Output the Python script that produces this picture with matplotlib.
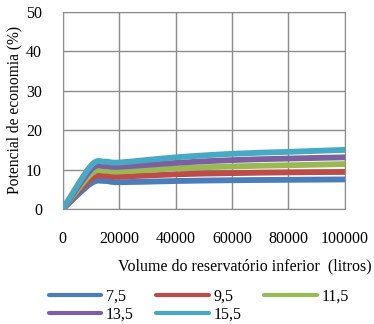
import matplotlib
matplotlib.use("Agg")
import matplotlib.pyplot as plt
import numpy as np
from matplotlib.path import Path
from matplotlib.patches import PathPatch
from matplotlib.lines import Line2D

volume = [0, 10000, 15000, 20000, 40000, 60000, 80000, 100000]
s75 = [0, 6.5, 7.1, 6.8, 7.1, 7.3, 7.4, 7.5]
s95 = [0, 7.7, 8.4, 8.2, 8.8, 9.1, 9.3, 9.4]
s115 = [0, 8.9, 9.7, 9.5, 10.3, 10.8, 11.1, 11.4]
s135 = [0, 10.0, 10.9, 10.7, 11.7, 12.4, 12.8, 13.1]
s155 = [0, 11.0, 12.0, 11.8, 13.1, 14.0, 14.5, 15.0]
labels = ["7,5", "9,5", "11,5", "13,5", "15,5"]
colors = ["#4a7ebb", "#be4b48", "#98b954", "#7d60a0", "#46aac5"]

plt.rcParams['font.family'] = ['Liberation Serif', 'DejaVu Serif']

fig = plt.figure(figsize=(3.74, 3.24), dpi=100)
ax = fig.add_axes([0.168, 0.355, 0.754, 0.608])


def smooth_path(x, y, t=1/6):
    # Excel-like Catmull-Rom smoothing via cubic Bezier segments
    x = np.asarray(x, float); y = np.asarray(y, float)
    verts = [(x[0], y[0])]; codes = [Path.MOVETO]
    n = len(x)
    for i in range(n - 1):
        x0, y0 = (x[i-1], y[i-1]) if i > 0 else (x[i], y[i])
        x3, y3 = (x[i+2], y[i+2]) if i + 2 < n else (x[i+1], y[i+1])
        c1 = (x[i] + (x[i+1] - x0) * t, y[i] + (y[i+1] - y0) * t)
        c2 = (x[i+1] - (x3 - x[i]) * t, y[i+1] - (y3 - y[i]) * t)
        verts += [c1, c2, (x[i+1], y[i+1])]
        codes += [Path.CURVE4] * 3
    return Path(verts, codes)

for ys, c in zip([s75, s95, s115, s135, s155], colors):
    p = PathPatch(smooth_path(volume, ys), fill=False, edgecolor=c, lw=4.2,
                  capstyle='round', joinstyle='round', zorder=3)
    ax.add_patch(p)

ax.set_xlim(0, 100000)
ax.set_ylim(0, 50)
ax.set_xticks([0, 20000, 40000, 60000, 80000, 100000])
ax.set_yticks([0, 10, 20, 30, 40, 50])
ax.grid(True, color='#8c8c8c', lw=1.0)
ax.set_axisbelow(True)
for sp in ax.spines.values():
    sp.set_color('#8c8c8c')
ax.tick_params(length=0, labelsize=11.5)
ax.tick_params(axis='y', pad=15)
ax.tick_params(axis='x', pad=16)
ax.set_ylabel("Potencial de economia (%)", fontsize=11.2)
ax.yaxis.set_label_coords(-0.145, 0.5)
ax.set_xlabel("Volume do reservatório inferior  (litros)", fontsize=11.5)
ax.xaxis.set_label_coords(0.645, -0.25)

order = [0, 3, 1, 4, 2]
handles = [Line2D([], [], color=c, lw=3.0, solid_capstyle='round') for c in colors]
fig.legend([handles[i] for i in order], [labels[i] for i in order],
           loc='upper left', bbox_to_anchor=(0.13, 0.11), ncol=3,
           frameon=False, fontsize=11.5, handlelength=3.3, handletextpad=0.3,
           columnspacing=1.4, labelspacing=0.15, borderaxespad=0, borderpad=0)

fig.savefig("out.png", dpi=100)
